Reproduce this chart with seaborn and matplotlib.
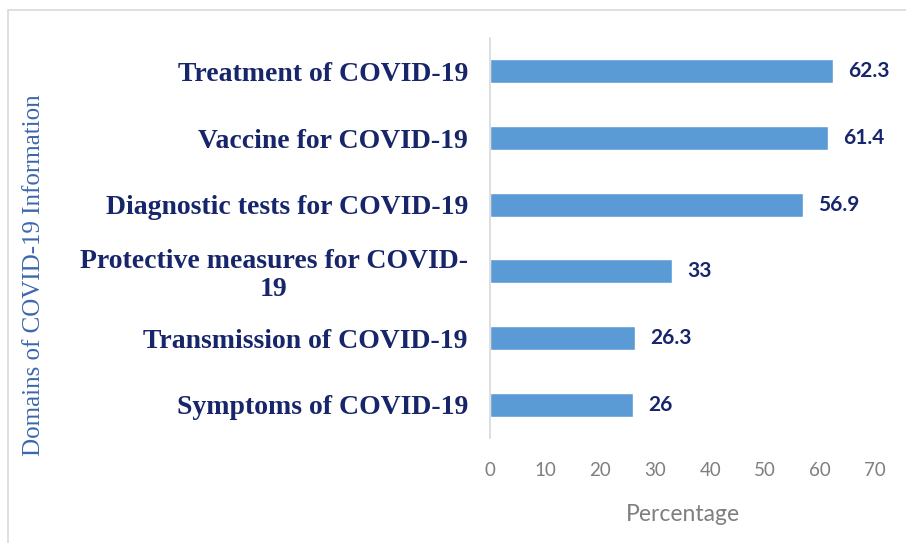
import matplotlib
matplotlib.use("Agg")
import matplotlib.pyplot as plt
import seaborn as sns
import pandas as pd
from matplotlib.patches import Rectangle

categories = [
    "Treatment of COVID-19",
    "Vaccine for COVID-19",
    "Diagnostic tests for COVID-19",
    "Protective measures for COVID-\n19",
    "Transmission of COVID-19",
    "Symptoms of COVID-19",
]
values = [62.3, 61.4, 56.9, 33, 26.3, 26]
value_labels = ["62.3", "61.4", "56.9", "33", "26.3", "26"]
xticks = [0, 10, 20, 30, 40, 50, 60, 70]

sns.set_style("white")
df = pd.DataFrame({"domain": categories, "pct": values})

fig = plt.figure(figsize=(9.06, 5.43), dpi=100)
ax = fig.add_axes([0.541, 0.193, 0.425, 0.737])

sns.barplot(data=df, x="pct", y="domain", orient="h", color="#5b9bd5",
            saturation=1, width=0.36, ax=ax)

ax.set_xlim(0, 70)
ax.set_ylim(5.5, -0.5)
ax.set_xticks(xticks)
ax.set_xticklabels([str(t) for t in xticks], fontsize=13.5, color="#7f7f7f",
                   family=["Lato", "DejaVu Sans"])
ax.tick_params(axis="both", length=0)
ax.tick_params(axis="x", pad=17)
ax.tick_params(axis="y", pad=16)

for lbl in ax.get_yticklabels():
    lbl.set_fontfamily(["Liberation Serif", "DejaVu Serif"])
    lbl.set_fontweight("bold")
    lbl.set_fontsize(20)
    lbl.set_color("#17256a")
    lbl.set_multialignment("center")
    lbl.set_linespacing(1.15)

for i, (v, t) in enumerate(zip(values, value_labels)):
    ax.annotate(t, xy=(v, i), xytext=(11, 0), textcoords="offset points",
                va="center", ha="left", fontsize=15, fontweight="bold",
                color="#17256a", family=["Lato", "DejaVu Sans"])

ax.set_xlabel("Percentage", fontsize=16.5, color="#7f7f7f", labelpad=18,
              family=["Lato", "DejaVu Sans"])
ax.set_ylabel("")

for s in ["top", "right", "bottom"]:
    ax.spines[s].set_visible(False)
ax.spines["left"].set_color("#d9d9d9")
ax.spines["left"].set_linewidth(1.2)

fig.text(0.038, 0.494, "Domains of COVID-19 Information", rotation=90,
         va="center", ha="center", fontsize=18, color="#3c67ad",
         family=["Liberation Serif", "DejaVu Serif"])

fig.patches.append(Rectangle((8 / 906, -0.01), 1.0, 1 - 10 / 543 + 0.01,
                             transform=fig.transFigure, fill=False,
                             edgecolor="#d9d9d9", linewidth=1.2))

fig.savefig("out.png", dpi=100)
